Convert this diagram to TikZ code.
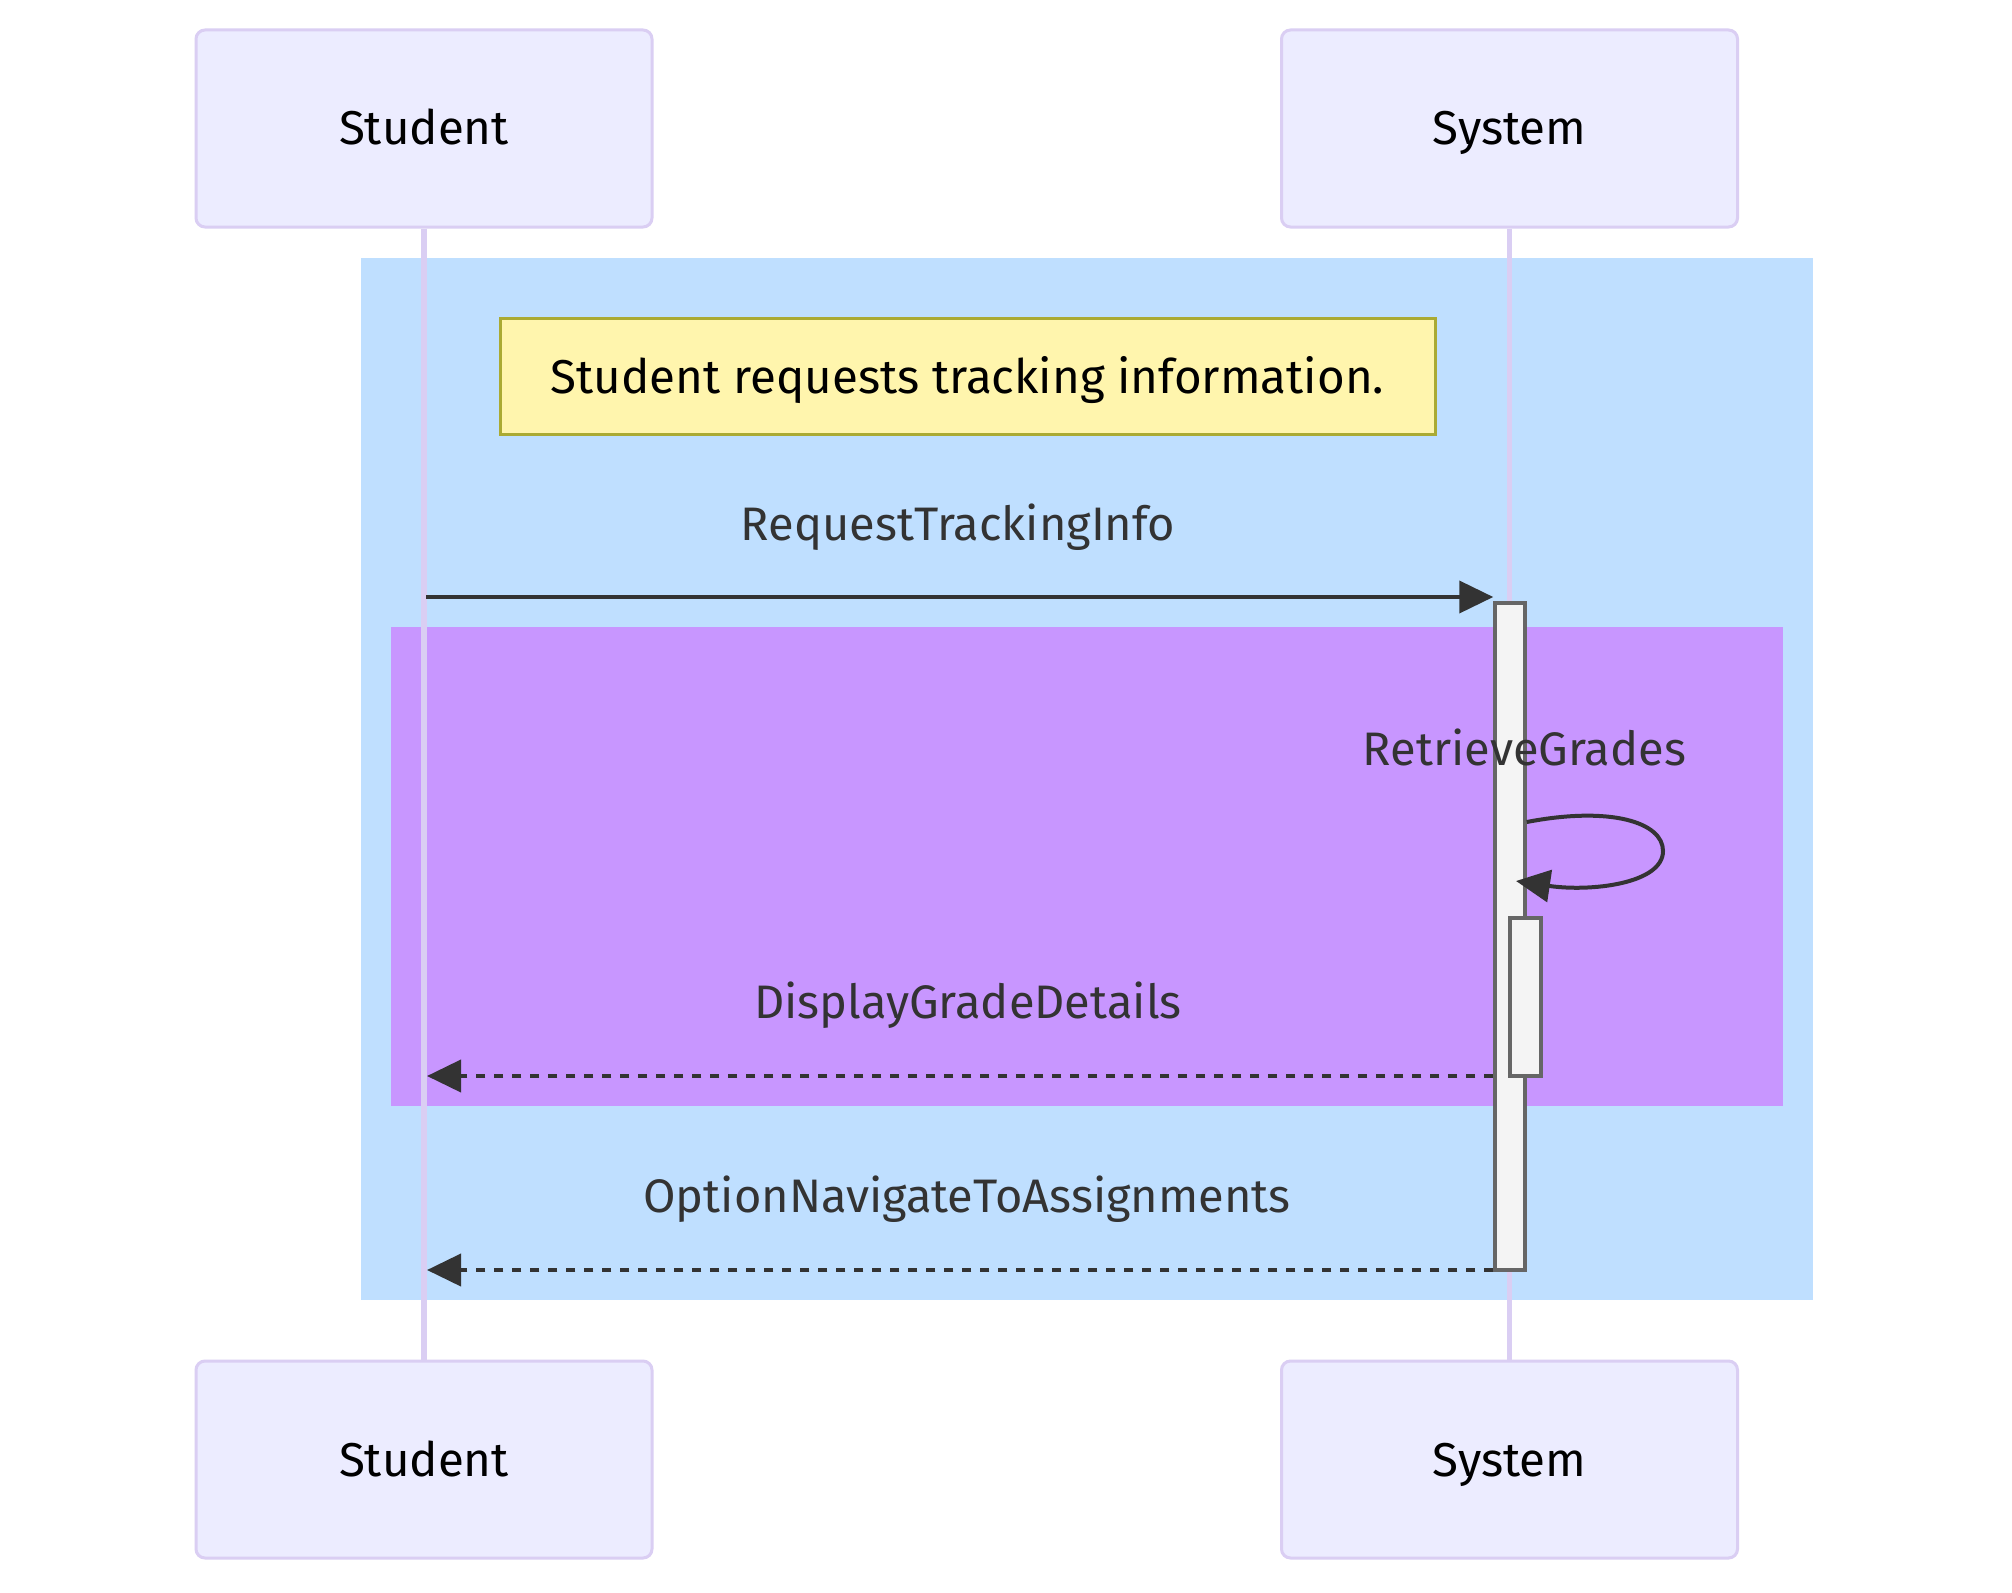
\documentclass[tikz,border=0pt]{standalone}
\usepackage{fontspec}
\setmainfont{Fira Sans}
\usetikzlibrary{arrows.meta}
\definecolor{actfill}{HTML}{ECECFF}
\definecolor{actline}{HTML}{DACEF3}
\definecolor{loopblue}{RGB}{191,223,255}
\definecolor{loopviolet}{RGB}{200,150,255}
\definecolor{notefill}{HTML}{FFF5AD}
\definecolor{noteline}{HTML}{AAAA33}
\definecolor{ink}{HTML}{333333}
\definecolor{actbox}{HTML}{F4F4F4}
\definecolor{actboxline}{HTML}{666666}
\begin{document}
\begin{tikzpicture}[x=1pt,y=-1pt,
  actor/.style={draw=actline, fill=actfill, line width=3pt, rounded corners=9pt,
    minimum width=456pt, minimum height=197pt, inner sep=0pt,
    text height=33pt, text depth=0pt, font=\fontsize{47.5}{57}\selectfont},
  lifeline/.style={draw=actline, line width=5.5pt},
  activation/.style={draw=actboxline, fill=actbox, line width=3.5pt, inner sep=0pt},
  notebox/.style={draw=noteline, fill=notefill, line width=3pt, inner sep=0pt,
    minimum width=935pt, minimum height=116pt, text height=34pt, text depth=0pt,
    font=\fontsize{47.5}{57}\selectfont},
  msg/.style={anchor=base, text=ink, inner sep=0pt, font=\fontsize{47}{57}\selectfont},
  solidmsg/.style={draw=ink, line width=4pt, -{Triangle[length=34pt,width=32pt]}},
  dashmsg/.style={solidmsg, dash pattern=on 9pt off 9pt},
]
\useasboundingbox (0,0) rectangle (2012,1592);
\fill[white] (0,0) rectangle (2012,1592);
% frames
\fill[loopblue] (361,258) rectangle (1813,1300);
\fill[loopviolet] (391,627) rectangle (1783,1106);
% actors
\node[actor] (stuT) at (424,128.5) {Student};
\node[actor] (sysT) at (1509.5,128.5) {System};
\node[actor] (stuB) at (424,1459.5) {Student};
\node[actor] (sysB) at (1509.5,1459.5) {System};
% lifelines
\draw[lifeline] (stuT.south) -- (stuB.north);
\draw[lifeline] (sysT.south) -- (sysB.north);
% note
\node[notebox] (note) at (967.5,376) {Student requests tracking information.};
% activations
\node[activation, minimum width=30pt, minimum height=667pt] (act1) at (1510,936.5) {};
\node[activation, minimum width=31pt, minimum height=158pt] (act2) at (1525.5,997) {};
% message end points
\coordinate (m1s) at (426,597);
\coordinate (m1e) at (act1.west |- m1s);
\coordinate (m2s) at (act1.east |- 0,822);
\coordinate (m2e) at (1516,881);
\coordinate (m3s) at (act1.west |- 0,1076);
\coordinate (m3e) at (427,1076);
\coordinate (m4s) at (act1.west |- 0,1270);
\coordinate (m4e) at (427,1270);
% messages
\draw[solidmsg] (m1s) -- (m1e);
\draw[solidmsg] (m2s) .. controls (1610,806) and (1663,822) .. (1663,851)
  .. controls (1663,884) and (1590,892) .. (m2e);
\draw[dashmsg] (m3s) -- (m3e);
\draw[dashmsg] (m4s) -- (m4e);
% labels
\node[msg] (l1) at (958,540) {RequestTrackingInfo};
\node[msg] (l2) at (1524.5,765) {RetrieveGrades};
\node[msg] (l3) at (968,1018) {DisplayGradeDetails};
\node[msg] (l4) at (967,1212) {OptionNavigateToAssignments};
\end{tikzpicture}
\end{document}
